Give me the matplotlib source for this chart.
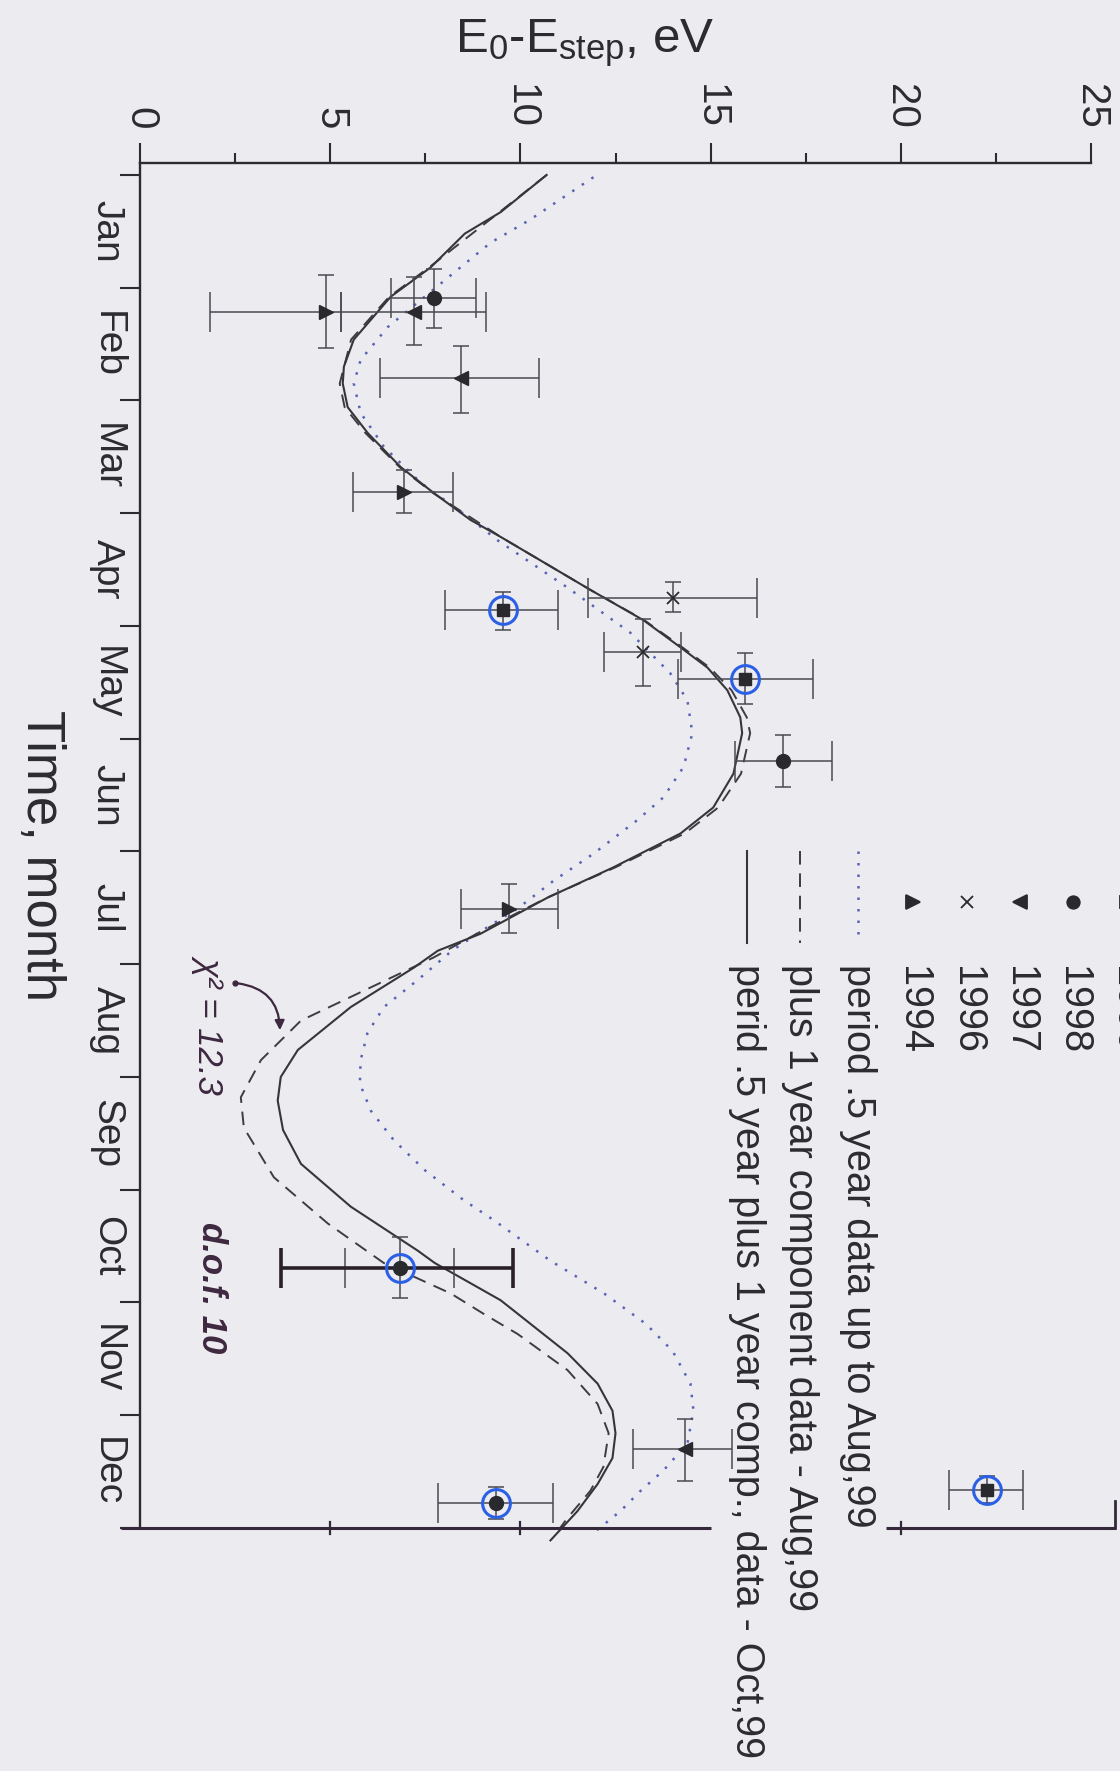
import matplotlib
matplotlib.use('Agg')
import matplotlib.pyplot as plt
from matplotlib.lines import Line2D
from matplotlib.patches import FancyArrowPatch

plt.rcParams['font.family'] = ['Liberation Sans', 'DejaVu Sans']
plt.rcParams['mathtext.fontset'] = 'custom'
plt.rcParams['mathtext.rm'] = 'Liberation Sans'
plt.rcParams['mathtext.it'] = 'Liberation Sans:italic'

# ---------------- data ----------------
month_labels = ['Jan', 'Feb', 'Mar', 'Apr', 'May', 'Jun',
                'Jul', 'Aug', 'Sep', 'Oct', 'Nov', 'Dec']
energy_ticks = [0, 5, 10, 15, 20, 25]

# fitted curves: time (months from Jan 1) and energy (eV)
dot_m = [0.02, 0.40, 0.60, 0.84, 1.35, 1.64, 1.85, 2.11, 2.41, 2.73, 3.03, 3.24,
         3.66, 4.06, 4.42, 4.66, 4.95, 5.25, 5.52, 5.72, 6.02, 6.26, 6.50, 6.70,
         6.88, 7.14, 7.38, 7.61, 7.85, 8.06, 8.30, 8.56, 8.83, 9.09, 9.27, 9.63,
         9.92, 10.19, 10.43, 10.72, 10.96, 11.25, 11.49, 11.67, 11.85, 12.05]
dot_E = [11.92, 10.24, 9.22, 8.35, 6.51, 5.80, 5.62, 5.80, 6.41, 7.38, 8.61, 9.40,
         11.24, 12.89, 13.94, 14.39, 14.52, 14.29, 13.76, 13.08, 11.92, 10.87, 9.95, 9.00,
         8.20, 7.30, 6.41, 5.98, 5.80, 5.78, 6.07, 6.67, 7.50, 8.50, 9.30, 10.79,
         12.20, 13.30, 14.00, 14.47, 14.55, 14.39, 13.76, 13.16, 12.63, 11.90]

dash_m = [0.00, 0.33, 0.82, 1.08, 1.46, 1.85, 2.06, 2.29, 2.59, 2.82, 3.21, 3.68,
          3.95, 4.19, 4.37, 4.57, 4.81, 4.95, 5.31, 5.61, 5.84, 6.14, 6.41, 6.73,
          6.94, 7.50, 7.85, 8.18, 8.45, 8.89, 9.30, 9.65, 9.92, 10.10, 10.28, 10.60,
          10.90, 11.16, 11.46, 11.67, 11.91, 12.02]
dash_E = [10.69, 9.45, 7.60, 6.55, 5.55, 5.25, 5.38, 5.93, 6.82, 7.70, 9.48, 11.84,
          13.26, 14.26, 14.98, 15.55, 15.95, 16.04, 15.80, 15.20, 14.32, 12.50, 10.70, 8.85,
          7.72, 4.23, 3.18, 2.65, 2.73, 3.52, 4.94, 6.41, 8.17, 9.03, 9.93, 11.24,
          12.03, 12.32, 12.18, 11.84, 11.24, 11.00]

solid_m = [0.00, 0.33, 0.52, 0.82, 1.08, 1.46, 1.70, 1.85, 2.06, 2.29, 2.59, 2.82,
           3.06, 3.21, 3.68, 3.95, 4.19, 4.37, 4.57, 4.81, 4.95, 5.31, 5.61, 5.84,
           6.14, 6.41, 6.73, 6.88, 7.03, 7.38, 7.76, 8.00, 8.21, 8.47, 8.77, 9.15,
           9.54, 9.65, 9.98, 10.10, 10.45, 10.72, 10.96, 11.16, 11.38, 11.61, 11.85, 12.11]
solid_E = [10.69, 9.48, 8.54, 7.64, 6.59, 5.62, 5.36, 5.33, 5.46, 5.99, 6.85, 7.72,
           8.69, 9.48, 11.84, 13.24, 14.21, 14.92, 15.44, 15.78, 15.83, 15.60, 15.07, 14.21,
           12.45, 10.71, 8.95, 7.83, 7.20, 5.54, 4.15, 3.70, 3.62, 3.76, 4.23, 5.54,
           7.30, 7.75, 9.48, 9.93, 11.24, 12.03, 12.42, 12.50, 12.42, 12.03, 11.50, 10.79]

# data points: energy, energy error range, month, month error range
p1999_E = [9.53, 15.91, 22.27]
p1999_Elo = [8.01, 14.13, 21.27]
p1999_Ehi = [11.00, 17.70, 23.21]
p1999_m = [3.86, 4.47, 11.66]
p1999_mlo = [3.70, 4.24, 11.54]
p1999_mhi = [4.04, 4.69, 11.78]
p1999_ring = [True, True, True]

p1998_E = [7.72, 16.91, 6.83, 9.35]
p1998_Elo = [6.59, 15.65, 5.38, 7.83]
p1998_Ehi = [8.82, 18.20, 8.25, 10.85]
p1998_m = [1.09, 5.20, 9.69, 11.78]
p1998_mlo = [0.83, 4.97, 9.42, 11.64]
p1998_mhi = [1.36, 5.43, 9.96, 11.92]
p1998_ring = [False, False, True, True]

p1997_E = [7.20, 8.43, 14.34]
p1997_Elo = [5.28, 6.30, 12.95]
p1997_Ehi = [9.09, 10.50, 15.57]
p1997_m = [1.215, 1.80, 11.30]
p1997_mlo = [0.905, 1.52, 11.03]
p1997_mhi = [1.51, 2.11, 11.58]

p1996_E = [14.02, 13.21]
p1996_Elo = [11.79, 12.21]
p1996_Ehi = [16.23, 14.21]
p1996_m = [3.75, 4.23]
p1996_mlo = [3.61, 3.94]
p1996_mhi = [3.88, 4.53]

p1994_E = [4.88, 6.93, 9.70]
p1994_Elo = [1.84, 5.59, 8.44]
p1994_Ehi = [5.28, 8.22, 11.00]
p1994_m = [1.215, 2.81, 6.51]
p1994_mlo = [0.89, 2.62, 6.29]
p1994_mhi = [1.535, 3.00, 6.72]

# hand-drawn widened error bar on the October point
hand_bar_m = 9.69
hand_bar_Elo = 3.70
hand_bar_Ehi = 9.80

# ---------------- figure ----------------
W, H = 1120, 1771
BG = '#ececf0'
INK = '#2c2c30'
BAR = '#4a4a52'
RING = '#2a5fe6'


def fx(px):
    return px / W


def fy(py):
    return 1 - py / H


fig = plt.figure(figsize=(W / 100, H / 100), dpi=100)
fig.patch.set_facecolor(BG)
ax = fig.add_axes([fx(140), fy(1528), (1091 - 140) / W, (1528 - 163) / H])
ax.set_facecolor(BG)

ax.set_xlim(0, 25)
ax.set_ylim(12.0, -0.106)

# curves
ax.plot(dot_E, dot_m, color='#5a62b4', lw=1.8, ls=(0, (1, 3.6)), clip_on=False, zorder=2)
ax.plot(dash_E, dash_m, color='#3c3c42', lw=1.4, ls=(0, (7, 4.5)), clip_on=False, zorder=2)
ax.plot(solid_E, solid_m, color='#35353a', lw=1.5, clip_on=False, zorder=2)


def draw_points(E, Elo, Ehi, m, mlo, mhi, marker, ms, ring=None, mew=1.0):
    xerr = [[e - lo for e, lo in zip(E, Elo)], [hi - e for e, hi in zip(E, Ehi)]]
    yerr = [[v - lo for v, lo in zip(m, mlo)], [hi - v for v, hi in zip(m, mhi)]]
    ax.errorbar(E, m, xerr=xerr, fmt='none', ecolor=BAR, elinewidth=1.1,
                capsize=14.4, capthick=1.1, zorder=3, clip_on=False)
    ax.errorbar(E, m, yerr=yerr, fmt='none', ecolor=BAR, elinewidth=1.1,
                capsize=6.0, capthick=1.1, zorder=3, clip_on=False)
    if ring is not None:
        rE = [e for e, r in zip(E, ring) if r]
        rm = [v for v, r in zip(m, ring) if r]
        ax.plot(rE, rm, ls='none', marker='o', ms=20, mfc='none', mec=RING,
                mew=2.2, zorder=4, clip_on=False)
    ax.plot(E, m, ls='none', marker=marker, ms=ms, color='#2a2a2e', mew=mew,
            zorder=5, clip_on=False)


draw_points(p1999_E, p1999_Elo, p1999_Ehi, p1999_m, p1999_mlo, p1999_mhi, 's', 8, p1999_ring)
draw_points(p1998_E, p1998_Elo, p1998_Ehi, p1998_m, p1998_mlo, p1998_mhi, 'o', 10, p1998_ring)
draw_points(p1997_E, p1997_Elo, p1997_Ehi, p1997_m, p1997_mlo, p1997_mhi, '<', 10.5)
draw_points(p1996_E, p1996_Elo, p1996_Ehi, p1996_m, p1996_mlo, p1996_mhi, 'x', 9, mew=1.3)
draw_points(p1994_E, p1994_Elo, p1994_Ehi, p1994_m, p1994_mlo, p1994_mhi, '>', 10.5)

# hand-drawn bold error bar
ax.errorbar([(hand_bar_Elo + hand_bar_Ehi) / 2], [hand_bar_m],
            xerr=[[(hand_bar_Ehi - hand_bar_Elo) / 2]], fmt='none', ecolor='#2a2028',
            elinewidth=2.6, capsize=14.4, capthick=2.6, zorder=3)

# ---------------- axes styling ----------------
for side in ('right', 'bottom'):
    ax.spines[side].set_visible(False)
for side in ('top', 'left'):
    ax.spines[side].set_color(INK)
    ax.spines[side].set_linewidth(1.7)

ax.xaxis.tick_top()
ax.set_xticks(energy_ticks)
ax.set_xticks([2.5, 7.5, 12.5, 17.5, 22.5], minor=True)
ax.set_xticklabels([str(t) for t in energy_ticks])
ax.tick_params(axis='x', which='major', direction='out', length=14.4, width=1.5,
               pad=10, labelsize=29, labelrotation=-90, colors=INK)
ax.tick_params(axis='x', which='minor', direction='out', length=7.2, width=1.5, colors=INK)

ax.set_yticks(list(range(13)))
ax.set_yticklabels([])
ax.set_yticks([i + 0.5 for i in range(12)], minor=True)
ax.set_yticklabels(month_labels, minor=True)
ax.tick_params(axis='y', which='major', direction='out', length=14.4, width=1.5, colors=INK)
ax.tick_params(axis='y', which='minor', length=0, pad=11, labelsize=28,
               labelrotation=-90, colors=INK)
for lab in ax.get_yticklabels(minor=True):
    lab.set_va('center')
    lab.set_ha('right')

# right-hand frame line of the original plot (bottom here), interrupted by the legend
ax.plot([-0.5, 15.02], [12.0, 12.0], color='#35283a', lw=2.2, clip_on=False, zorder=6,
        solid_capstyle='butt')
ax.plot([19.62, 25.63], [12.0, 12.0], color='#35283a', lw=2.2, clip_on=False, zorder=6,
        solid_capstyle='butt')
ax.plot([25.63, 25.63], [11.76, 12.0], color='#35283a', lw=2.0, clip_on=False, zorder=6)
for t in (5, 10, 20):
    ax.plot([t, t], [11.95, 12.05], color='#35283a', lw=1.6, clip_on=False, zorder=6)

# ---------------- axis titles ----------------
fig.text(fx(585), fy(52), r'E$_0$-E$_{\mathrm{step}}$, eV', ha='center', va='baseline',
         fontsize=35.5, color=INK)
fig.text(fx(41), fy(855), 'Time, month', rotation=-90, ha='center', va='center',
         fontsize=38, color=INK)

# ---------------- legend ----------------
leg_marker_y = 902
leg_text_y = 966
leg_items = [
    (1126, 's', 8, '1999'),
    (1073, 'o', 9, '1998'),
    (1020, '<', 9.5, '1997'),
    (967, 'x', 8, '1996'),
    (913, '>', 9.5, '1994'),
]
for x, mk, ms, lab in leg_items:
    fig.add_artist(Line2D([fx(x)], [fy(leg_marker_y)], transform=fig.transFigure,
                          marker=mk, ms=ms, color='#2a2a2e', ls='none', mew=1.3))
    fig.text(fx(x), fy(leg_text_y), lab, rotation=-90, ha='center', va='top',
             fontsize=28.5, color=INK)

leg_lines = [
    (858, dict(color='#5a62b4', lw=1.8, ls=(0, (1, 3.6))), 'period .5 year data up to Aug,99'),
    (800, dict(color='#3c3c42', lw=1.4, ls=(0, (7, 4.5))), 'plus 1 year component data - Aug,99'),
    (747, dict(color='#35353a', lw=1.5), 'perid .5 year plus 1 year comp., data - Oct,99'),
]
for x, style, lab in leg_lines:
    fig.add_artist(Line2D([fx(x), fx(x)], [fy(851), fy(943)], transform=fig.transFigure,
                          **style))
    fig.text(fx(x), fy(leg_text_y - 2), lab, rotation=-90, ha='center', va='top',
             fontsize=28.5, color=INK)

# ---------------- handwritten chi-square note ----------------
NOTE = '#3d2840'
fig.text(fx(210), fy(955), 'χ² = 12.3', rotation=-90, ha='center', va='top',
         fontsize=25, color=NOTE, style='italic')
fig.text(fx(212), fy(1222), 'd.o.f. 10', rotation=-90, ha='center', va='top',
         fontsize=25, color=NOTE, style='italic', fontweight='bold')
fig.add_artist(Line2D([fx(235)], [fy(983)], transform=fig.transFigure, marker='o',
                      ms=3.5, color=NOTE))
fig.add_artist(FancyArrowPatch((fx(235), fy(983)), (fx(280), fy(1033)),
                               transform=fig.transFigure, connectionstyle='arc3,rad=-0.45',
                               arrowstyle='-|>', mutation_scale=14, color=NOTE, lw=1.6))

fig.savefig('out.png', dpi=100, facecolor=BG)
